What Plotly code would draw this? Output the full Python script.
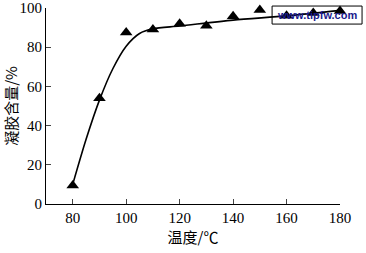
import plotly.graph_objects as go

temp = [80, 90, 100, 110, 120, 130, 140, 150, 160, 170, 180]
gel = [9.5, 54, 87.5, 89, 92, 91, 95.8, 99, 96, 97.5, 98.5]

curve_x = [80, 85, 90, 95, 100, 105, 110, 120, 140, 160, 180]
curve_y = [10, 33, 53, 69, 80.5, 87, 89.4, 90.8, 93.8, 96, 98.8]

xticks = [80, 100, 120, 140, 160, 180]
yticks = [0, 20, 40, 60, 80, 100]

fig = go.Figure()
fig.add_shape(type="rect", xref="paper", yref="paper", x0=0.769, x1=1.075, y0=0.918, y1=1.01,
              fillcolor="white", line=dict(color="black", width=1), layer="below")
fig.add_trace(go.Scatter(x=curve_x, y=curve_y, mode="lines",
                         line=dict(color="black", width=1.6, shape="spline", smoothing=0.8),
                         showlegend=False, hoverinfo="skip", cliponaxis=False))
fig.add_trace(go.Scatter(x=temp, y=gel, mode="markers",
                         marker=dict(symbol="triangle-up", size=11, color="black"),
                         showlegend=False, cliponaxis=False))

fig.add_annotation(xref="paper", yref="paper", x=0.922, y=0.964, xanchor="center", yanchor="middle",
                   text="<b>www.tipfw.com</b>", showarrow=False,
                   font=dict(family="Liberation Sans, Arial", size=11, color="#1a1a8c"))

axis_font = dict(family="Liberation Serif", size=15, color="black")
fig.update_layout(
    width=366, height=253,
    margin=dict(l=46, r=26, t=8, b=49),
    paper_bgcolor="white", plot_bgcolor="white",
    font=dict(family="Liberation Serif"),
    xaxis=dict(range=[70, 180], tickvals=xticks, ticks="inside", ticklen=5,
               showline=True, linecolor="black", linewidth=1, showgrid=False, zeroline=False,
               tickfont=axis_font, ticklabeloverflow="allow", automargin=False,
               title=dict(text="温度/℃", font=dict(family="Noto Sans CJK SC", size=15, color="black"),
                          standoff=6)),
    yaxis=dict(range=[0, 100], tickvals=yticks, ticks="inside", ticklen=5,
               showline=True, linecolor="black", linewidth=1, showgrid=False, zeroline=False,
               tickfont=axis_font, ticklabeloverflow="allow", automargin=False,
               title=dict(text="凝胶含量/%", font=dict(family="Noto Sans CJK SC", size=15, color="black"),
                          standoff=4)),
)
fig.write_html("out.html")
